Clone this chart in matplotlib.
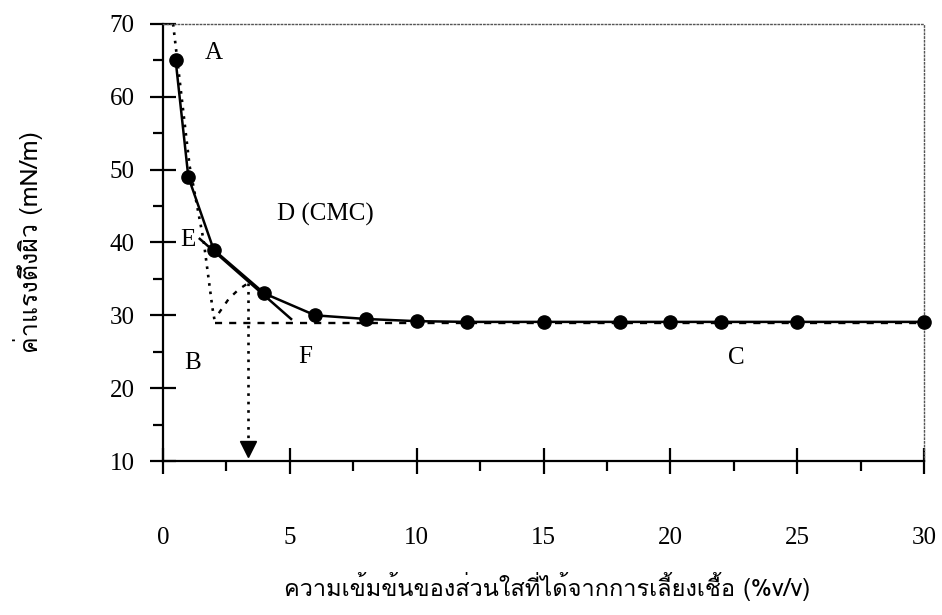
import matplotlib
matplotlib.use('Agg')
import matplotlib.pyplot as plt
from matplotlib import font_manager
from matplotlib.ft2font import FT2Font
from matplotlib.ticker import MultipleLocator

# surface tension vs. concentration of culture supernatant
conc = [0.5, 1, 2, 4, 6, 8, 10, 12, 15, 18, 20, 22, 25, 30]
tension = [65, 49, 39, 33, 30, 29.5, 29.2, 29.1, 29.1, 29.1, 29.1, 29.1, 29.1, 29.1]

# construction lines used to read the CMC
ab_x = [0.4, 1.05, 1.6, 1.95, 2.05]
ab_y = [70, 50.5, 40.3, 31, 29]
tangent_x = [1.45, 5.05]
tangent_y = [40.5, 29.5]
base_x = [2.05, 30]
base_y = [29.0, 29.0]
arc_x = [2.2, 2.6, 3.0, 3.35]
arc_y = [30.3, 32.3, 33.6, 34.4]
cmc_x = 3.35
drop_y = [34.5, 12.5]

point_labels = ['A', 'B', 'C', 'D (CMC)', 'E', 'F']
label_x = [2.0, 1.15, 22.6, 6.4, 1.0, 5.6]
label_y = [66, 23.4, 24.1, 43.8, 40.3, 24.3]

x_title = 'ความเข้มข้นของส่วนใสที่ได้จากการเลี้ยงเชื้อ (%v/v)'
y_title = 'ค่าแรงตึงผิว (mN/m)'


def thai_font():
    for f in font_manager.fontManager.ttflist:
        try:
            if 0x0E04 in FT2Font(f.fname).get_charmap():
                return f.name
        except Exception:
            pass
    return 'DejaVu Sans'


def graph():
    serif = 'Liberation Serif'
    thai = thai_font()
    dots = (0, (1, 2.2))

    fig = plt.figure(figsize=(9.42, 6.15), dpi=100)
    ax = fig.add_axes([0.173, 0.2504, 0.808, 0.7106])

    ax.plot(ab_x, ab_y, color='black', lw=1.9, linestyle=dots)
    ax.plot(base_x, base_y, color='black', lw=1.7, linestyle=(0, (3, 3)))
    ax.plot(arc_x, arc_y, color='black', lw=1.7, linestyle=(0, (2, 3)))
    ax.plot([cmc_x, cmc_x], drop_y, color='black', lw=1.9, linestyle=dots)
    ax.plot([cmc_x], [11.7], marker='v', color='black', markersize=11)
    ax.plot(tangent_x, tangent_y, color='black', lw=1.8)
    ax.plot(conc, tension, color='black', lw=1.8, marker='o', markersize=9.5,
            clip_on=False, zorder=5)

    for lab, lx, ly in zip(point_labels, label_x, label_y):
        ax.text(lx, ly, lab, ha='center', va='center', fontsize=18,
                family=serif)

    ax.set_xlim(0, 30)
    ax.set_ylim(10, 70)
    ax.xaxis.set_major_locator(MultipleLocator(5))
    ax.xaxis.set_minor_locator(MultipleLocator(2.5))
    ax.yaxis.set_major_locator(MultipleLocator(10))
    ax.yaxis.set_minor_locator(MultipleLocator(5))
    ax.tick_params(which='major', direction='inout', length=19, width=1.6,
                   labelsize=18)
    ax.tick_params(which='minor', direction='out', length=7, width=1.6)
    ax.tick_params(axis='x', which='major', pad=38)
    ax.tick_params(axis='y', which='major', pad=11)
    for t in ax.get_xticklabels() + ax.get_yticklabels():
        t.set_family(serif)

    for side in ['left', 'bottom']:
        ax.spines[side].set_linewidth(1.6)
    for side in ['top', 'right']:
        ax.spines[side].set_linewidth(1.0)
        ax.spines[side].set_linestyle(':')
        ax.spines[side].set_color('#555555')

    ax.set_xlabel(x_title, fontsize=17, family=[thai, 'DejaVu Sans'])
    ax.xaxis.set_label_coords(0.505, -0.255)
    ax.set_ylabel(y_title, fontsize=18, family=[thai, 'DejaVu Sans'])
    ax.yaxis.set_label_coords(-0.158, 0.5)

    fig.savefig('out.png', dpi=100)


if __name__ == '__main__':
    graph()
